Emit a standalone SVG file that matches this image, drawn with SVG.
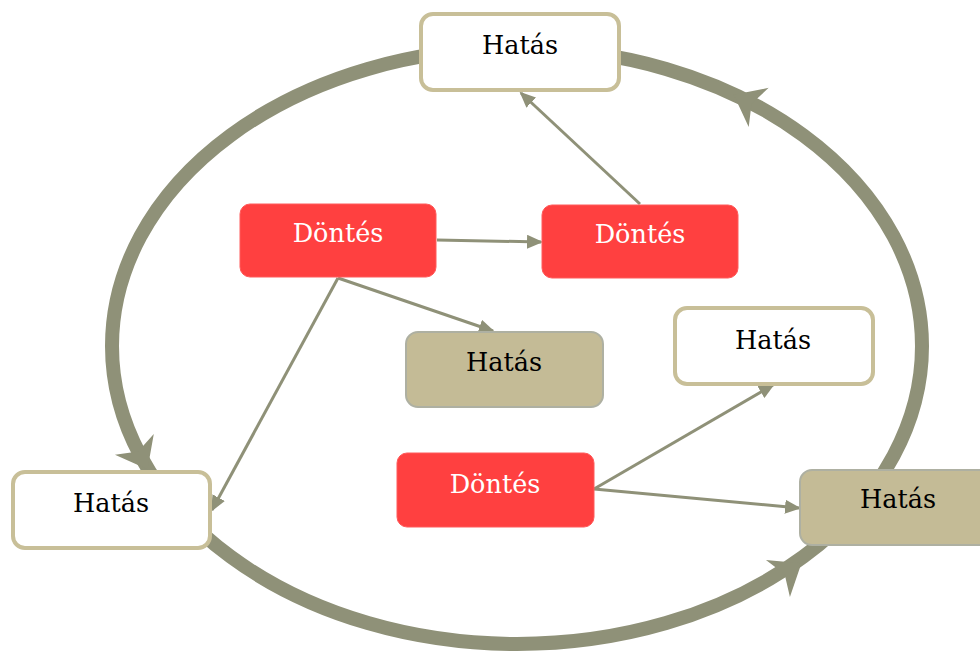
<svg xmlns="http://www.w3.org/2000/svg" width="980" height="654" viewBox="0 0 980 654">
<defs>
<style>
.t{font-family:"DejaVu Serif","Liberation Serif",serif;font-size:25.5px;text-anchor:middle;dominant-baseline:central}
.dk{fill:#000}
.wt{fill:#fff}
.white{fill:#fff;stroke:#c8bf98;stroke-width:4}
.tan{fill:#c4bb96;stroke:#aeb0a2;stroke-width:2}
.red{fill:#ff4040;stroke:#ff5a5a;stroke-width:1}
.con{stroke:#8f9178;stroke-width:3;fill:none;marker-end:url(#ah)}
.head{fill:#8f9178}
</style>
<marker id="ah" markerUnits="userSpaceOnUse" markerWidth="16" markerHeight="14" refX="14" refY="7" orient="auto">
<path d="M0,0 L16,7 L0,14 Z" fill="#8f9178"/>
</marker>
</defs>
<g id="cycle">
<ellipse cx="517" cy="346" rx="405" ry="298" fill="none" stroke="#8f9178" stroke-width="14"/>
<path class="head" d="M16,0 L-12,-22 L-4,0 L-12,22 Z" transform="translate(140,455) rotate(62)"/>
<path class="head" d="M16,0 L-12,-22 L-4,0 L-12,22 Z" transform="translate(788,572) rotate(-33)"/>
<path class="head" d="M16,0 L-12,-22 L-4,0 L-12,22 Z" transform="translate(748,102) rotate(207)"/>
</g>
<g id="connectors">
<line class="con" x1="437" y1="240" x2="541" y2="242"/>
<line class="con" x1="640" y1="204" x2="521" y2="93"/>
<line class="con" x1="338" y1="278" x2="493" y2="331"/>
<line class="con" x1="338" y1="278" x2="212" y2="510"/>
<line class="con" x1="594" y1="489" x2="773" y2="385"/>
<line class="con" x1="594" y1="489" x2="799" y2="508"/>
</g>
<g id="hatas_top">
<rect class="white" x="421" y="14" width="198" height="76" rx="12"/>
<text class="t dk" x="520" y="45">Hatás</text>
</g>
<g id="dontes_left">
<rect class="red" x="240" y="204" width="196" height="73" rx="10"/>
<text class="t wt" x="338" y="233">Döntés</text>
</g>
<g id="dontes_right">
<rect class="red" x="542" y="205" width="196" height="73" rx="10"/>
<text class="t wt" x="640" y="234">Döntés</text>
</g>
<g id="hatas_mid">
<rect class="tan" x="406" y="332" width="197" height="75" rx="12"/>
<text class="t dk" x="504" y="362">Hatás</text>
</g>
<g id="hatas_right_top">
<rect class="white" x="675" y="308" width="198" height="76" rx="12"/>
<text class="t dk" x="773" y="340">Hatás</text>
</g>
<g id="dontes_bottom">
<rect class="red" x="397" y="453" width="197" height="74" rx="10"/>
<text class="t wt" x="495" y="484">Döntés</text>
</g>
<g id="hatas_left">
<rect class="white" x="13" y="472" width="197" height="76" rx="12"/>
<text class="t dk" x="111" y="503">Hatás</text>
</g>
<g id="hatas_right">
<rect class="tan" x="800" y="470" width="198" height="75" rx="12"/>
<text class="t dk" x="898" y="499">Hatás</text>
</g>
</svg>
